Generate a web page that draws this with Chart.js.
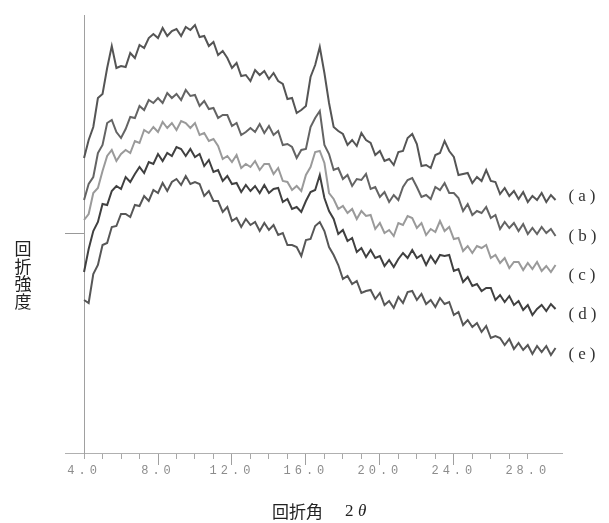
<!DOCTYPE html>
<html>
<head>
<meta charset="utf-8">
<script src="https://cdn.jsdelivr.net/npm/chart.js"></script>
<style>
  html, body { margin: 0; padding: 0; background: #fff; }
  canvas { display: block; }
</style>
</head>
<body>
<canvas id="xrd" width="609" height="523"></canvas>
<script>
// diffraction angle 2θ (deg)
var angles = [4, 4.25, 4.5, 4.75, 5, 5.25, 5.5, 5.75, 6, 6.25, 6.5, 6.75, 7, 7.25, 7.5, 7.75,
  8, 8.25, 8.5, 8.75, 9, 9.25, 9.5, 9.75, 10, 10.25, 10.5, 10.75, 11, 11.25, 11.5, 11.75,
  12, 12.25, 12.5, 12.75, 13, 13.25, 13.5, 13.75, 14, 14.25, 14.5, 14.75, 15, 15.25, 15.5, 15.75,
  16, 16.25, 16.5, 16.75, 17, 17.25, 17.5, 17.75, 18, 18.25, 18.5, 18.75, 19, 19.25, 19.5, 19.75,
  20, 20.25, 20.5, 20.75, 21, 21.25, 21.5, 21.75, 22, 22.25, 22.5, 22.75, 23, 23.25, 23.5, 23.75,
  24, 24.25, 24.5, 24.75, 25, 25.25, 25.5, 25.75, 26, 26.25, 26.5, 26.75, 27, 27.25, 27.5, 27.75,
  28, 28.25, 28.5, 28.75, 29, 29.25, 29.5];

// intensity, arbitrary units (traces are offset)
var seriesA = [295, 313, 326, 355, 359, 385, 407, 385, 387, 386, 400, 395, 408, 405, 415, 419,
  415, 425, 417, 422, 424, 417, 426, 423, 428, 416, 417, 407, 411, 398, 402, 395,
  385, 390, 377, 378, 372, 383, 378, 382, 374, 380, 372, 369, 354, 355, 340, 343,
  347, 376, 388, 406, 380, 350, 326, 322, 319, 308, 313, 307, 320, 313, 310, 298,
  302, 292, 294, 288, 301, 302, 315, 319, 309, 287, 288, 285, 298, 300, 312, 302,
  296, 278, 279, 280, 270, 276, 272, 283, 272, 271, 259, 265, 257, 262, 254, 261,
  251, 257, 253, 260, 251, 258, 253];
var seriesB = [253, 269, 276, 300, 308, 330, 333, 321, 315, 324, 336, 335, 347, 343, 353, 350,
  355, 350, 360, 355, 359, 353, 363, 357, 358, 347, 352, 344, 345, 335, 338, 338,
  327, 330, 318, 321, 325, 321, 329, 320, 327, 318, 322, 308, 309, 306, 295, 303,
  304, 326, 335, 342, 308, 299, 283, 285, 274, 278, 267, 274, 273, 279, 264, 266,
  256, 261, 251, 258, 253, 266, 273, 275, 266, 256, 258, 254, 266, 263, 270, 260,
  260, 255, 242, 249, 238, 242, 240, 246, 235, 238, 224, 231, 225, 230, 222, 229,
  219, 225, 219, 226, 220, 224, 217];
var seriesC = [233, 239, 260, 265, 282, 297, 303, 292, 299, 303, 300, 312, 310, 323, 320, 326,
  321, 331, 325, 330, 323, 332, 330, 325, 330, 318, 320, 312, 314, 307, 294, 297,
  291, 298, 285, 289, 286, 292, 283, 289, 289, 279, 285, 272, 271, 263, 267, 262,
  278, 286, 301, 302, 290, 260, 254, 244, 247, 240, 244, 234, 242, 237, 238, 224,
  230, 220, 223, 217, 230, 228, 237, 235, 225, 230, 218, 224, 221, 232, 222, 226,
  214, 215, 202, 207, 200, 207, 205, 208, 195, 198, 190, 195, 185, 191, 191, 183,
  190, 184, 191, 182, 187, 181, 188];
var seriesD = [181, 204, 222, 231, 249, 248, 262, 267, 264, 276, 271, 279, 286, 280, 291, 289,
  299, 292, 300, 297, 306, 304, 297, 304, 296, 299, 287, 293, 281, 283, 272, 277,
  269, 270, 261, 268, 262, 267, 260, 268, 260, 264, 265, 251, 254, 244, 246, 241,
  252, 261, 263, 278, 255, 242, 234, 219, 223, 212, 215, 201, 205, 196, 203, 195,
  197, 187, 193, 186, 194, 200, 195, 203, 195, 198, 188, 197, 190, 198, 197, 198,
  182, 184, 171, 176, 167, 169, 162, 165, 165, 153, 158, 151, 157, 148, 152, 143,
  148, 138, 144, 148, 142, 149, 144];
var seriesE = [153, 150, 179, 188, 208, 210, 226, 227, 239, 239, 236, 248, 247, 257, 252, 263,
  260, 270, 262, 271, 274, 268, 277, 269, 271, 269, 257, 262, 252, 252, 241, 246,
  232, 235, 226, 234, 228, 231, 222, 230, 223, 228, 218, 220, 208, 208, 206, 197,
  213, 214, 227, 231, 222, 206, 198, 188, 174, 177, 169, 172, 160, 162, 163, 154,
  160, 148, 152, 145, 156, 150, 161, 162, 153, 159, 149, 153, 146, 155, 149, 151,
  138, 141, 128, 133, 126, 130, 121, 127, 115, 117, 115, 108, 114, 104, 110, 103,
  108, 99, 107, 101, 107, 98, 105];

var traceNames = ['(a)', '(b)', '(c)', '(d)', '(e)'];
var traceColors = ['#555555', '#646464', '#9a9a9a', '#404040', '#575757'];
var yTitle = ['回', '折', '強', '度'];

function toPoints(values) {
  return values.map(function (v, i) { return { x: angles[i], y: v }; });
}

var allSeries = [seriesA, seriesB, seriesC, seriesD, seriesE];
var datasets = allSeries.map(function (s, i) {
  return {
    label: traceNames[i],
    data: toPoints(s),
    borderColor: traceColors[i],
    borderWidth: 2,
    borderJoinStyle: 'miter',
    pointRadius: 0,
    tension: 0,
    fill: false,
    xAxisID: 'x',
    yAxisID: 'y'
  };
});

// letter-spaced tick labels like the original plot
var spacing = {
  id: 'spacing',
  beforeDraw: function (chart) { chart.ctx.letterSpacing = '4px'; },
  afterDraw: function (chart) { chart.ctx.letterSpacing = '0px'; }
};

var texts = {
  id: 'texts',
  afterDraw: function (chart) {
    var ctx = chart.ctx;
    var x = chart.scales.x;
    ctx.save();
    // trace names at the right end
    ctx.font = '17px "Liberation Serif"';
    ctx.letterSpacing = '4px';
    ctx.fillStyle = '#333';
    ctx.textBaseline = 'middle';
    ctx.textAlign = 'left';
    var lx = x.getPixelForValue(angles[angles.length - 1]) + 13;
    traceNames.forEach(function (t, i) {
      ctx.fillText(t, lx, 197 + i * 39.3);
    });
    // vertical axis title, upright characters
    ctx.letterSpacing = '0px';
    ctx.font = '17px "Noto Sans CJK JP"';
    ctx.fillStyle = '#222';
    ctx.textAlign = 'center';
    yTitle.forEach(function (c, i) {
      ctx.fillText(c, 23, 249 + i * 17.5);
    });
    // horizontal axis title
    ctx.textAlign = 'left';
    ctx.fillText('回折角', 272, 512);
    ctx.font = '17px "Liberation Serif"';
    ctx.fillText('2', 345, 512);
    ctx.font = 'italic 17px "Liberation Serif"';
    ctx.fillText('θ', 358, 512);
    ctx.restore();
  }
};

new Chart(document.getElementById('xrd'), {
  type: 'line',
  data: { datasets: datasets },
  options: {
    responsive: false,
    animation: false,
    layout: { padding: { left: 65, right: 47, top: 15, bottom: 0 } },
    plugins: { legend: { display: false }, tooltip: { enabled: false } },
    scales: {
      x: {
        type: 'linear',
        position: 'bottom',
        min: 2.97,
        max: 29.85,
        grid: { drawOnChartArea: false, tickLength: 6, color: '#a8a8a8', lineWidth: 1 },
        border: { color: '#b0b0b0', width: 1 },
        ticks: {
          stepSize: 1,
          autoSkip: false,
          maxRotation: 0,
          padding: 5,
          color: '#8c8c8c',
          font: { family: '"Liberation Mono"', size: 12 },
          callback: function (v) { return v % 4 === 0 ? v.toFixed(1) : ''; }
        },
        afterBuildTicks: function (s) {
          s.ticks = s.ticks.filter(function (t) { return t.value >= 4 && t.value <= 29; });
        },
        afterFit: function (s) { s.height = 70; }
      },
      x2: {
        type: 'linear',
        axis: 'x',
        position: { y: 0 },
        min: 2.97,
        max: 29.85,
        grid: { drawOnChartArea: false, tickLength: 12, color: '#a0a0a0' },
        border: { display: false },
        ticks: { display: false, stepSize: 4, autoSkip: false },
        afterBuildTicks: function (s) {
          s.ticks = s.ticks.filter(function (t) { return t.value >= 4 && t.value % 4 === 0; });
        }
      },
      y: {
        type: 'linear',
        position: { x: 4 },
        min: 0,
        max: 438,
        grid: { drawOnChartArea: false, tickLength: 19, color: '#999' },
        border: { color: '#a0a0a0', width: 1 },
        ticks: { display: false },
        afterBuildTicks: function (s) { s.ticks = [{ value: 220 }]; }
      }
    }
  },
  plugins: [spacing, texts]
});
</script>
</body>
</html>
